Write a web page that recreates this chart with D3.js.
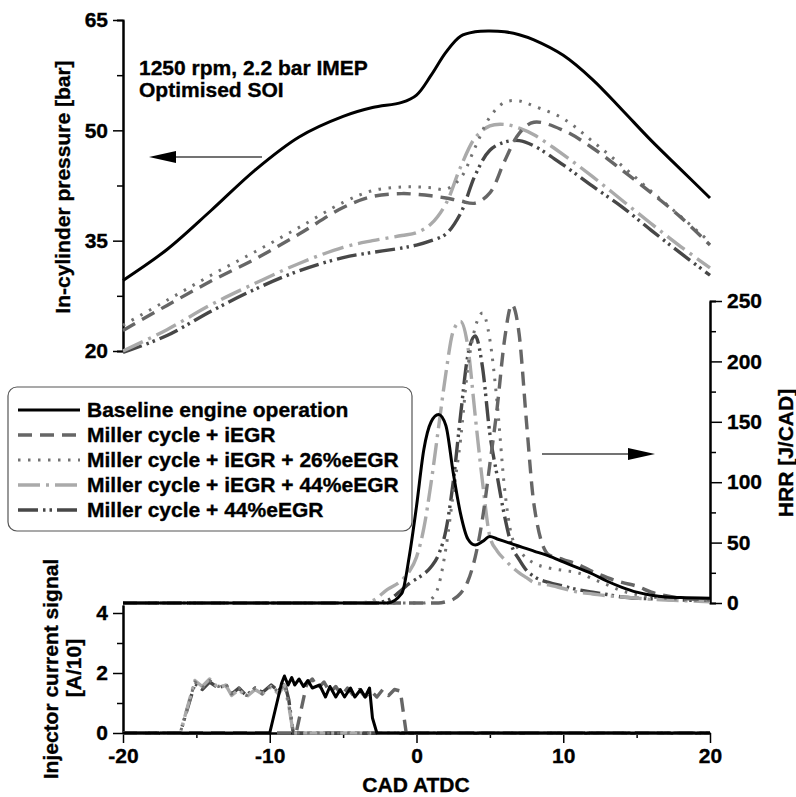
<!DOCTYPE html>
<html><head><meta charset="utf-8">
<script src="https://cdn.jsdelivr.net/npm/d3@7/dist/d3.min.js"></script>
<style>
body{margin:0;background:#fff}
svg text{font-family:"Liberation Sans",Arial,sans-serif;font-weight:700;fill:#000;stroke:#000;stroke-width:0.35px}
</style>
</head><body><svg id="c" width="796" height="797"></svg>
<script>
// ---------------- DATA ----------------
const seriesNames = ["Baseline engine operation","Miller cycle + iEGR","Miller cycle + iEGR + 26%eEGR","Miller cycle + iEGR + 44%eEGR","Miller cycle + 44%eEGR"];

// In-cylinder pressure [bar]
const pressureCad = [-20,-17,-14,-11,-8,-5,-3,-1,0,1,2,3,4,5,6,7,8,10,12,14,16,18,20];
const pBaseline      = [29.6,33.8,39.1,44.6,49.1,51.9,53.1,53.8,54.8,57.5,60.6,62.8,63.4,63.5,63.4,63.0,62.3,60.2,56.9,52.8,48.6,44.7,40.8];
const pMillerIEGR    = [22.8,26.2,29.5,32.5,35.9,39.5,41.0,41.4,41.3,41.1,40.8,40.4,40.1,41.5,45.8,49.6,51.1,50.0,47.6,44.6,41.5,38.2,34.4];
const pMillerIEGR26  = [23.5,26.9,30.3,33.5,36.8,40.2,41.8,42.3,42.3,42.2,42.0,43.5,47.7,51.8,53.8,54.0,53.3,51.6,48.5,45.2,41.7,38.3,34.8];
const pMillerIEGR44  = [20.0,22.9,26.3,29.2,31.9,34.1,35.0,35.7,36.1,37.3,40.0,45.0,49.0,50.6,50.8,50.3,49.4,46.7,43.7,40.5,37.3,34.2,31.3];
const pMiller44      = [19.8,22.1,25.4,28.4,30.9,32.7,33.4,34.0,34.4,35.0,35.9,38.7,43.9,47.3,48.4,48.6,47.9,45.3,42.4,39.6,36.4,33.3,30.3];

// Heat release rate [J/CAD]
const hrrCad = [-20,-5,-4,-3,-2,-1,-0.5,0,0.5,1,1.5,2,2.5,3,3.5,4,4.5,5,5.5,6,6.5,7,7.5,8,9,10,11,12,13,14,15,16,17,18,20];
const hBaseline     = [0,0,0,0,0,8,38,80,127,150,156,147,108,74,53,48,51,55,53,51,49,47,45,43,39,34,29,24,18,13,9,6.5,5,4.5,4];
const hMillerIEGR   = [0,0,0,0,0,0,0,0,0,0,0,1,3,8,18,38,70,115,162,218,247,222,149,82,40,36,32,26,21,17,14,9,6,4,2.5];
const hMillerIEGR26 = [0,0,0,0,0,0,0,0,0,3,14,45,90,135,195,228,240,218,165,95,55,44,37,33,29,27,25,20,15,10,7,5,4,3,2];
const hMillerIEGR44 = [0,0,0,2,11,19,26,38,62,100,145,190,225,233,212,155,100,55,43,36,30,25,21,17,15,12,9,7.5,6,5,4,3,2.5,2,1];
const hMiller44     = [0,0,0,0,2,11,16,20,24,30,40,60,100,155,205,221,195,140,105,72,47,36,27,22,17,14,11,9,7,5,4,3.5,3,2.5,2];

// Injector current signal [A/10]
const injBaselineCad = [-20,-10.0,-9.2,-9.0,-8.75,-8.5,-8.3,-8.0,-7.7,-7.4,-7.1,-6.6,-6.2,-5.9,-5.5,-5.2,-4.9,-4.5,-4.2,-3.8,-3.5,-3.2,-3.0,-2.7,20];
const injBaseline    = [0,0,1.65,1.9,1.6,1.85,1.6,1.8,1.55,1.75,1.5,1.6,1.2,1.55,1.2,1.45,1.2,1.5,1.2,1.45,1.2,1.5,0.5,0,0];
const injMillerIEGRCad = [-20,-8.2,-7.5,-7.1,-6.7,-6.3,-5.9,-5.5,-5.1,-4.7,-4.3,-3.9,-3.5,-3.1,-2.7,-2.3,-1.9,-1.5,-1.1,-0.7,20];
const injMillerIEGR    = [0,0,1.6,1.8,1.5,1.7,1.35,1.55,1.25,1.5,1.25,1.45,1.2,1.4,1.2,1.45,1.25,1.45,1.4,0,0];
const injEarlyCad     = [-20,-16.1,-15.1,-14.6,-14.1,-13.5,-13.0,-12.6,-12.1,-11.6,-11.0,-10.5,-9.9,-9.4,-9.0,-8.7,-8.4,20];
const injMillerIEGR26 = [0,0,1.7,1.5,1.75,1.55,1.65,1.3,1.5,1.25,1.5,1.3,1.6,1.35,1.65,1.0,0,0];
const injMillerIEGR44 = [0,0,1.75,1.55,1.8,1.5,1.6,1.25,1.45,1.2,1.45,1.3,1.55,1.3,1.6,0.9,0,0];
const injMiller44     = [0,0,1.65,1.45,1.7,1.5,1.6,1.3,1.5,1.25,1.5,1.35,1.6,1.4,1.7,1.1,0,0];

const xTicks = [-20,-10,0,10,20];
const pTicks = [20,35,50,65];
const hTicks = [0,50,100,150,200,250];
const iTicks = [0,2,4];

// ---------------- STYLE ----------------
const sColor = ["#000000","#666666","#727272","#aaaaaa","#474747"];
const sDash  = [null,"14,8","2.5,7.5","22,6,3,6","20,5,2.5,4,2.5,5"];
const sWidth = [3,3.4,3,3.4,3.4];
const FS = 21;

// ---------------- CHART ----------------
const svg = d3.select("#c");
const x  = d3.scaleLinear().domain([-20,20]).range([123,710]);
const yP = d3.scaleLinear().domain([20,65]).range([351,20]);
const yH = d3.scaleLinear().domain([0,250]).range([603,301]);
const yI = d3.scaleLinear().domain([0,4]).range([733,613]);
const yIAxis = yI.copy().domain([0, yI.invert(605)]).range([733,605]);
const fmt = d => String(d);

function styleAxis(g){
  g.attr("font-size",null).attr("font-family",null);
  g.select(".domain").attr("stroke","#000").attr("stroke-width",2);
  g.selectAll(".tick line").attr("stroke","#000").attr("stroke-width",1.5);
  g.selectAll(".tick text").style("font-size",FS+"px");
}

// pressure axis
svg.append("g").attr("transform","translate(123,0)")
  .call(d3.axisLeft(yP).tickValues([27.5,42.5,57.5]).tickSize(6).tickFormat("")).call(styleAxis);
svg.append("g").attr("transform","translate(123,0)")
  .call(d3.axisLeft(yP).tickValues(pTicks).tickSize(10).tickSizeOuter(0).tickPadding(5).tickFormat(fmt)).call(styleAxis);
// HRR axis
svg.append("g").attr("transform","translate(710,0)")
  .call(d3.axisRight(yH).tickValues([25,75,125,175,225]).tickSize(6).tickFormat("")).call(styleAxis);
svg.append("g").attr("transform","translate(710,0)")
  .call(d3.axisRight(yH).tickValues(hTicks).tickSize(12).tickSizeOuter(0).tickPadding(5).tickFormat(fmt)).call(styleAxis);
// injector axis
svg.append("g").attr("transform","translate(123,0)")
  .call(d3.axisLeft(yIAxis).tickValues([1,3]).tickSize(6).tickFormat("").tickSizeOuter(0)).call(styleAxis);
svg.append("g").attr("transform","translate(123,0)")
  .call(d3.axisLeft(yIAxis).tickValues(iTicks).tickSize(10).tickSizeOuter(0).tickPadding(5).tickFormat(fmt)).call(styleAxis);
// x axis
svg.append("g").attr("transform","translate(0,733)")
  .call(d3.axisBottom(x).tickValues([-15,-5,5,15]).tickSize(5).tickFormat("").tickSizeOuter(0)).call(styleAxis);
svg.append("g").attr("transform","translate(0,733)")
  .call(d3.axisBottom(x).tickValues(xTicks).tickSize(10).tickSizeOuter(0).tickPadding(5).tickFormat(fmt)).call(styleAxis);

// lines
function drawSeries(cads, vals, yScale, i, curve){
  const pts = cads.map((c,k)=>[c,vals[k]]);
  const line = d3.line().x(d=>x(d[0])).y(d=>yScale(d[1])).curve(curve);
  svg.append("path").datum(pts).attr("d",line)
    .attr("fill","none").attr("stroke",sColor[i]).attr("stroke-width",sWidth[i])
    .attr("stroke-dasharray",sDash[i]).attr("stroke-linejoin","round");
}
const pSeries = [pBaseline,pMillerIEGR,pMillerIEGR26,pMillerIEGR44,pMiller44];
const hSeries = [hBaseline,hMillerIEGR,hMillerIEGR26,hMillerIEGR44,hMiller44];
const iSeries = [[injBaselineCad,injBaseline],[injMillerIEGRCad,injMillerIEGR],[injEarlyCad,injMillerIEGR26],[injEarlyCad,injMillerIEGR44],[injEarlyCad,injMiller44]];
for(let i=4;i>=0;i--){
  drawSeries(pressureCad, pSeries[i], yP, i, d3.curveCatmullRom.alpha(0.5));
  drawSeries(hrrCad, hSeries[i], yH, i, d3.curveMonotoneX);
  drawSeries(iSeries[i][0], iSeries[i][1], yI, i, d3.curveLinear);
}

// arrows
function arrow(x1,tip,y,dir){
  svg.append("line").attr("x1",x1).attr("x2",tip - dir*20).attr("y1",y).attr("y2",y)
    .attr("stroke","#444").attr("stroke-width",1.5);
  svg.append("path").attr("d",`M${tip},${y} L${tip-dir*27},${y-6} L${tip-dir*27},${y+6} Z`).attr("fill","#000");
}
arrow(262,149,157,-1);
arrow(542,655,454,1);

// texts
function txt(t){ return svg.append("text").style("font-size",FS+"px").text(t); }
txt("1250 rpm, 2.2 bar IMEP").attr("x",139).attr("y",75);
txt("Optimised SOI").attr("x",139).attr("y",97);
txt("In-cylinder pressure [bar]").attr("transform","translate(70,187) rotate(-90)").attr("text-anchor","middle");
txt("HRR [J/CAD]").attr("transform","translate(793,453) rotate(-90)").attr("text-anchor","middle");
txt("Injector current signal").attr("transform","translate(58,669) rotate(-90)").attr("text-anchor","middle");
txt("[A/10]").attr("transform","translate(81,668) rotate(-90)").attr("text-anchor","middle");
txt("CAD ATDC").attr("x",416).attr("y",792).attr("text-anchor","middle");

// legend
const lg = svg.append("g");
lg.append("rect").attr("x",8).attr("y",387).attr("width",404).attr("height",144).attr("rx",9)
  .attr("fill","none").attr("stroke","#555").attr("stroke-width",1.2);
seriesNames.forEach((n,i)=>{
  const yy = 410 + i*25;
  lg.append("line").attr("x1",18).attr("x2",80).attr("y1",yy).attr("y2",yy)
    .attr("stroke",sColor[i]).attr("stroke-width",sWidth[i]).attr("stroke-dasharray",sDash[i]);
  lg.append("text").attr("x",87).attr("y",yy).attr("dy","0.35em").style("font-size",FS+"px").text(n);
});
</script>
</body></html>
